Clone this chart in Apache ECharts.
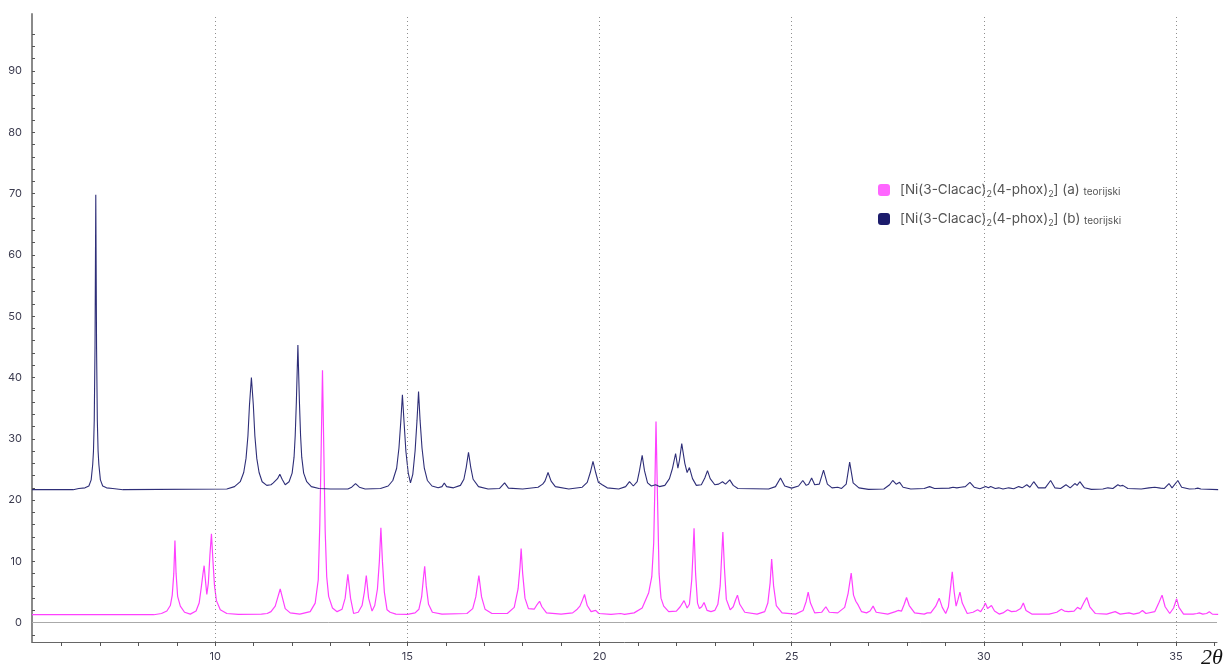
<!DOCTYPE html>
<html>
<head>
<meta charset="utf-8">
<script src="https://cdn.jsdelivr.net/npm/echarts@6/dist/echarts.min.js"></script>
<style>html,body{margin:0;padding:0;background:#fff}#c{width:1225px;height:668px}</style>
</head>
<body>
<div id="c"></div>
<script>
// 2θ (deg) vs intensity
const seriesNames = ['[Ni(3-Clacac)2(4-phox)2] (a) teorijski', '[Ni(3-Clacac)2(4-phox)2] (b) teorijski'];
const xTickValues = [6,7,8,9,10,11,12,13,14,15,16,17,18,19,20,21,22,23,24,25,26,27,28,29,30,31,32,33,34,35,36];
const xLabelValues = [10,15,20,25,30,35];
const yLabelValues = [0,10,20,30,40,50,60,70,80,90];
const yTickValues = [-2,0,2,4,6,8,10,12,14,16,18,20,22,24,26,28,30,32,34,36,38,40,42,44,46,48,50,52,54,56,58,60,62,64,66,68,70,72,74,76,78,80,82,84,86,88,90,92,94,96];

const patternA = [[5.23,1.3],[8.4,1.3],[8.6,1.5],[8.74,1.9],[8.83,2.8],[8.88,4.5],[8.92,8],[8.95,13.4],[8.98,8],[9.02,4.3],[9.09,2.7],[9.2,1.7],[9.35,1.4],[9.5,1.9],[9.58,3.2],[9.63,5.5],[9.68,8],[9.71,9.3],[9.75,6.5],[9.78,4.6],[9.82,6.5],[9.86,11],[9.9,14.5],[9.94,10],[9.98,6],[10.03,3.6],[10.13,2.1],[10.3,1.5],[10.6,1.35],[11.2,1.4],[11.35,1.5],[11.45,1.8],[11.56,2.7],[11.63,4.2],[11.69,5.5],[11.75,4.0],[11.82,2.3],[11.95,1.6],[12.2,1.4],[12.47,1.8],[12.6,3.2],[12.68,7],[12.72,16],[12.755,28],[12.79,41.2],[12.825,28],[12.86,15],[12.9,7.5],[12.95,4.3],[13.05,2.4],[13.17,1.8],[13.3,2.2],[13.38,4],[13.45,7.9],[13.52,4],[13.6,1.5],[13.72,1.7],[13.82,2.8],[13.88,5],[13.93,7.7],[13.99,4],[14.08,1.9],[14.15,2.8],[14.22,5.5],[14.27,10],[14.31,15.5],[14.35,10],[14.4,5],[14.47,2.1],[14.55,1.7],[14.6,1.8],[14.7,1.4],[15.0,1.35],[15.2,1.6],[15.3,2.2],[15.37,4.2],[15.42,7.5],[15.45,9.2],[15.49,6],[15.55,3],[15.65,1.7],[15.9,1.4],[16.55,1.5],[16.7,2.3],[16.78,4.2],[16.86,7.7],[16.93,4.2],[17.02,2.2],[17.2,1.5],[17.6,1.5],[17.78,2.5],[17.88,5.5],[17.93,9],[17.96,12.1],[18.0,8],[18.06,4],[18.15,2.3],[18.3,2.2],[18.38,3],[18.44,3.5],[18.5,2.6],[18.62,1.6],[19.0,1.4],[19.3,1.6],[19.42,2.2],[19.49,2.7],[19.55,3.6],[19.61,4.6],[19.68,2.8],[19.78,1.8],[19.9,2.0],[19.98,1.5],[20.3,1.35],[20.55,1.5],[20.65,1.35],[20.9,1.6],[21.11,2.4],[21.28,4.9],[21.36,7.5],[21.41,13],[21.44,22],[21.47,32.8],[21.51,20],[21.55,8],[21.6,4],[21.67,2.7],[21.8,1.8],[22.0,1.9],[22.1,2.6],[22.2,3.6],[22.28,2.4],[22.34,3.0],[22.4,7],[22.43,11],[22.46,15.4],[22.5,8],[22.55,3.2],[22.6,2.3],[22.66,2.6],[22.72,3.3],[22.8,2.0],[22.9,1.8],[23.0,2.0],[23.08,3.0],[23.14,6],[23.18,11],[23.21,14.8],[23.25,9],[23.3,3.8],[23.4,2.1],[23.48,2.6],[23.54,3.7],[23.59,4.5],[23.65,3.0],[23.78,1.7],[24.1,1.4],[24.3,1.8],[24.38,3.2],[24.44,6.5],[24.48,10.4],[24.53,6],[24.6,2.8],[24.75,1.6],[25.1,1.4],[25.3,2.0],[25.38,3.5],[25.43,5.0],[25.49,3.2],[25.6,1.6],[25.78,1.7],[25.89,2.6],[25.98,1.7],[26.2,1.6],[26.38,2.5],[26.47,4.8],[26.55,8.1],[26.61,4.5],[26.67,3.5],[26.73,2.9],[26.82,1.8],[26.95,1.6],[27.04,1.9],[27.12,2.7],[27.2,1.7],[27.5,1.4],[27.7,1.8],[27.77,2.0],[27.86,1.9],[27.93,3],[27.99,4.1],[28.06,2.8],[28.2,1.6],[28.45,1.4],[28.53,1.6],[28.62,1.6],[28.75,2.7],[28.84,4.0],[28.92,2.5],[29.01,1.5],[29.08,2.6],[29.14,6],[29.18,8.3],[29.23,5],[29.28,2.7],[29.33,3.8],[29.38,5.0],[29.44,3.2],[29.57,1.5],[29.72,1.7],[29.84,2.1],[29.92,1.8],[30.0,2.6],[30.04,3.2],[30.1,2.3],[30.2,2.8],[30.28,1.9],[30.4,1.4],[30.5,1.6],[30.62,2.1],[30.72,1.8],[30.85,1.9],[30.96,2.3],[31.03,3.2],[31.1,2.0],[31.25,1.4],[31.7,1.4],[31.9,1.7],[32.02,2.2],[32.1,1.9],[32.2,1.8],[32.35,1.9],[32.44,2.5],[32.52,2.2],[32.6,3.2],[32.68,4.1],[32.76,2.6],[32.9,1.5],[33.2,1.4],[33.42,1.8],[33.55,1.4],[33.78,1.6],[33.9,1.4],[34.05,1.6],[34.13,2.0],[34.22,1.5],[34.45,1.8],[34.56,3.3],[34.64,4.5],[34.72,2.6],[34.84,1.5],[34.94,2.4],[35.02,3.9],[35.08,2.5],[35.2,1.4],[35.45,1.4],[35.55,1.5],[35.61,1.6],[35.7,1.4],[35.8,1.5],[35.87,1.8],[35.95,1.4],[36.1,1.35]];

const patternB = [[5.23,21.7],[6.3,21.7],[6.45,21.9],[6.61,22.0],[6.71,22.3],[6.77,23.3],[6.81,25.8],[6.83,28],[6.85,33],[6.87,45],[6.89,69.8],[6.91,45],[6.93,33],[6.95,28],[6.97,25.8],[7.01,23.3],[7.07,22.3],[7.17,22.0],[7.33,21.9],[7.6,21.7],[10.3,21.8],[10.5,22.2],[10.65,23.0],[10.74,24.5],[10.8,26.8],[10.85,30.5],[10.89,35.5],[10.94,40.0],[10.99,35.5],[11.03,30.5],[11.08,26.8],[11.14,24.5],[11.22,23.0],[11.34,22.4],[11.45,22.5],[11.51,22.8],[11.56,22.8],[11.62,23.5],[11.68,24.2],[11.74,23.4],[11.82,22.5],[11.92,23.0],[12.0,24.4],[12.05,27],[12.08,30.5],[12.11,36],[12.15,45.3],[12.19,36],[12.22,30.5],[12.25,27],[12.3,24.4],[12.38,23.0],[12.5,22.2],[12.7,21.9],[13.0,21.8],[13.45,21.8],[13.55,22.1],[13.65,22.7],[13.75,22.1],[13.9,21.8],[14.3,21.9],[14.5,22.3],[14.62,23.2],[14.72,25.2],[14.78,28.5],[14.83,33],[14.87,37.2],[14.91,33],[14.96,28],[15.02,24.5],[15.08,22.8],[15.14,24.2],[15.2,28],[15.25,33],[15.29,37.7],[15.33,33],[15.38,28.5],[15.44,25.2],[15.52,23.2],[15.64,22.3],[15.8,22.0],[15.9,22.2],[15.96,22.8],[16.02,22.2],[16.2,22.0],[16.38,22.4],[16.47,23.4],[16.53,25.3],[16.59,27.8],[16.65,25.3],[16.71,23.4],[16.85,22.2],[17.1,21.8],[17.4,21.9],[17.53,22.8],[17.63,21.95],[18.0,21.8],[18.4,22.1],[18.52,22.6],[18.58,23.1],[18.66,24.5],[18.74,23.1],[18.85,22.2],[19.2,21.8],[19.55,22.1],[19.68,22.9],[19.76,24.5],[19.83,26.3],[19.9,24.5],[19.97,22.9],[20.07,22.5],[20.2,22.0],[20.5,21.8],[20.68,22.2],[20.78,23.0],[20.88,22.3],[20.98,23.0],[21.04,24.8],[21.11,27.3],[21.17,24.8],[21.25,22.8],[21.35,22.3],[21.46,22.5],[21.56,22.2],[21.7,22.4],[21.82,23.5],[21.9,25.2],[21.98,27.6],[22.04,25.2],[22.08,26.5],[22.14,29.2],[22.22,26],[22.28,24.5],[22.34,25.3],[22.42,23.5],[22.52,22.4],[22.65,22.5],[22.74,23.6],[22.81,24.8],[22.88,23.5],[23.0,22.5],[23.1,22.6],[23.2,23.0],[23.28,22.6],[23.39,23.3],[23.48,22.4],[23.6,21.9],[24.4,21.8],[24.58,22.2],[24.71,23.6],[24.82,22.3],[25.0,21.95],[25.18,22.3],[25.29,23.2],[25.38,22.4],[25.44,22.6],[25.52,23.6],[25.6,22.5],[25.72,22.6],[25.83,24.9],[25.93,22.6],[26.05,22.0],[26.2,22.1],[26.3,21.9],[26.42,22.6],[26.51,26.2],[26.6,22.8],[26.75,22.0],[27.0,21.75],[27.4,21.8],[27.55,22.5],[27.63,23.2],[27.72,22.6],[27.81,22.9],[27.9,22.1],[28.1,21.8],[28.45,21.9],[28.59,22.2],[28.72,21.9],[29.1,21.95],[29.2,22.1],[29.3,22.0],[29.4,22.1],[29.52,22.2],[29.64,22.9],[29.75,22.1],[29.9,21.85],[30.05,22.2],[30.12,22.0],[30.18,22.2],[30.3,21.9],[30.39,22.0],[30.5,21.8],[30.65,22.0],[30.78,21.85],[30.91,22.2],[31.0,22.0],[31.12,22.5],[31.2,22.1],[31.3,23.0],[31.42,22.0],[31.6,22.0],[31.74,23.2],[31.85,22.0],[32.0,21.9],[32.14,22.5],[32.25,22.0],[32.37,22.7],[32.43,22.4],[32.5,23.0],[32.62,22.0],[32.8,21.75],[33.1,21.8],[33.23,22.0],[33.36,21.9],[33.49,22.5],[33.55,22.3],[33.62,22.4],[33.75,21.9],[34.1,21.8],[34.3,22.0],[34.45,22.1],[34.6,21.95],[34.7,21.9],[34.82,22.7],[34.9,22.0],[35.05,23.2],[35.15,22.1],[35.35,21.8],[35.5,21.85],[35.57,21.95],[35.65,21.8],[36.1,21.7]];

const chart = echarts.init(document.getElementById('c'), null, {renderer: 'canvas'});
const FONT = 'Inter, "Noto Sans", sans-serif';
const legendRich = {
  lead: {fontSize: 13.5, color: '#555', fontFamily: FONT, padding: [0, 0, 0, 5]},
  base: {fontSize: 13.5, color: '#555', fontFamily: FONT},
  sub: {fontSize: 9, color: '#555', fontFamily: FONT, padding: [9, 0, 0, 0]},
  sm: {fontSize: 10, color: '#555', fontFamily: FONT, padding: [4, 0, 0, 0]}
};
function legendFmt(name) {
  const tag = name.indexOf('(a)') >= 0 ? '(a)' : '(b)';
  return '{lead|[Ni(3-Clacac)}{sub|2}{base|(4-phox)}{sub|2}{base|] ' + tag + ' }{sm|teorijski}';
}
chart.setOption({
  animation: false,
  backgroundColor: '#fff',
  grid: {left: 32, right: 8, top: 14, bottom: 26, containLabel: false},
  legend: {
    orient: 'vertical', left: 873, top: 178, itemGap: 13,
    icon: 'roundRect', itemWidth: 12, itemHeight: 12,
    formatter: legendFmt,
    textStyle: {rich: legendRich, fontFamily: FONT},
    data: [
      {name: seriesNames[0], itemStyle: {color: '#ff66ff'}},
      {name: seriesNames[1], itemStyle: {color: '#1c1c6c'}}
    ]
  },
  xAxis: {
    type: 'value', min: 5.23, max: 36.07,
    axisLine: {show: true, onZero: false, lineStyle: {color: '#666', width: 1}},
    axisTick: {show: true, inside: false, length: 4, lineStyle: {color: '#555'}, customValues: xTickValues},
    axisLabel: {show: true, customValues: xLabelValues, color: '#3b3b4f', fontSize: 11, fontFamily: FONT, margin: 9},
    splitLine: {show: false}
  },
  yAxis: {
    type: 'value', min: -3.15, max: 99.3,
    axisLine: {show: true, onZero: false, lineStyle: {color: '#8a8a8a', width: 2}},
    axisTick: {show: true, inside: true, length: 3, lineStyle: {color: '#555'}, customValues: yTickValues},
    axisLabel: {show: true, customValues: yLabelValues, color: '#3b3b4f', fontSize: 11, fontFamily: FONT, margin: 10},
    splitLine: {show: false}
  },
  series: [
    {
      name: seriesNames[0], type: 'line', data: patternA, showSymbol: false, symbol: 'none',
      lineStyle: {color: '#ff40ff', width: 1.2}, itemStyle: {color: '#ff66ff'}, z: 3,
      markLine: {
        silent: true, symbol: 'none', label: {show: false},
        lineStyle: {color: '#aaaaaa', type: 'solid', width: 1},
        data: [{yAxis: 0}]
      }
    },
    {
      name: seriesNames[1], type: 'line', data: patternB, showSymbol: false, symbol: 'none',
      lineStyle: {color: '#2e2e78', width: 1.1}, itemStyle: {color: '#1c1c6c'}, z: 4,
      markLine: {
        silent: true, symbol: 'none', label: {show: false},
        lineStyle: {color: '#8f8f8f', type: [1, 3], width: 1},
        data: xLabelValues.map(v => ({xAxis: v}))
      }
    }
  ],
  graphic: [{
    type: 'text', left: 1201, top: 647,
    style: {text: '2θ', fontSize: 22, fontStyle: 'italic', fontFamily: '"Liberation Serif", "DejaVu Serif", serif', fill: '#111'}
  }]
});
</script>
</body>
</html>
